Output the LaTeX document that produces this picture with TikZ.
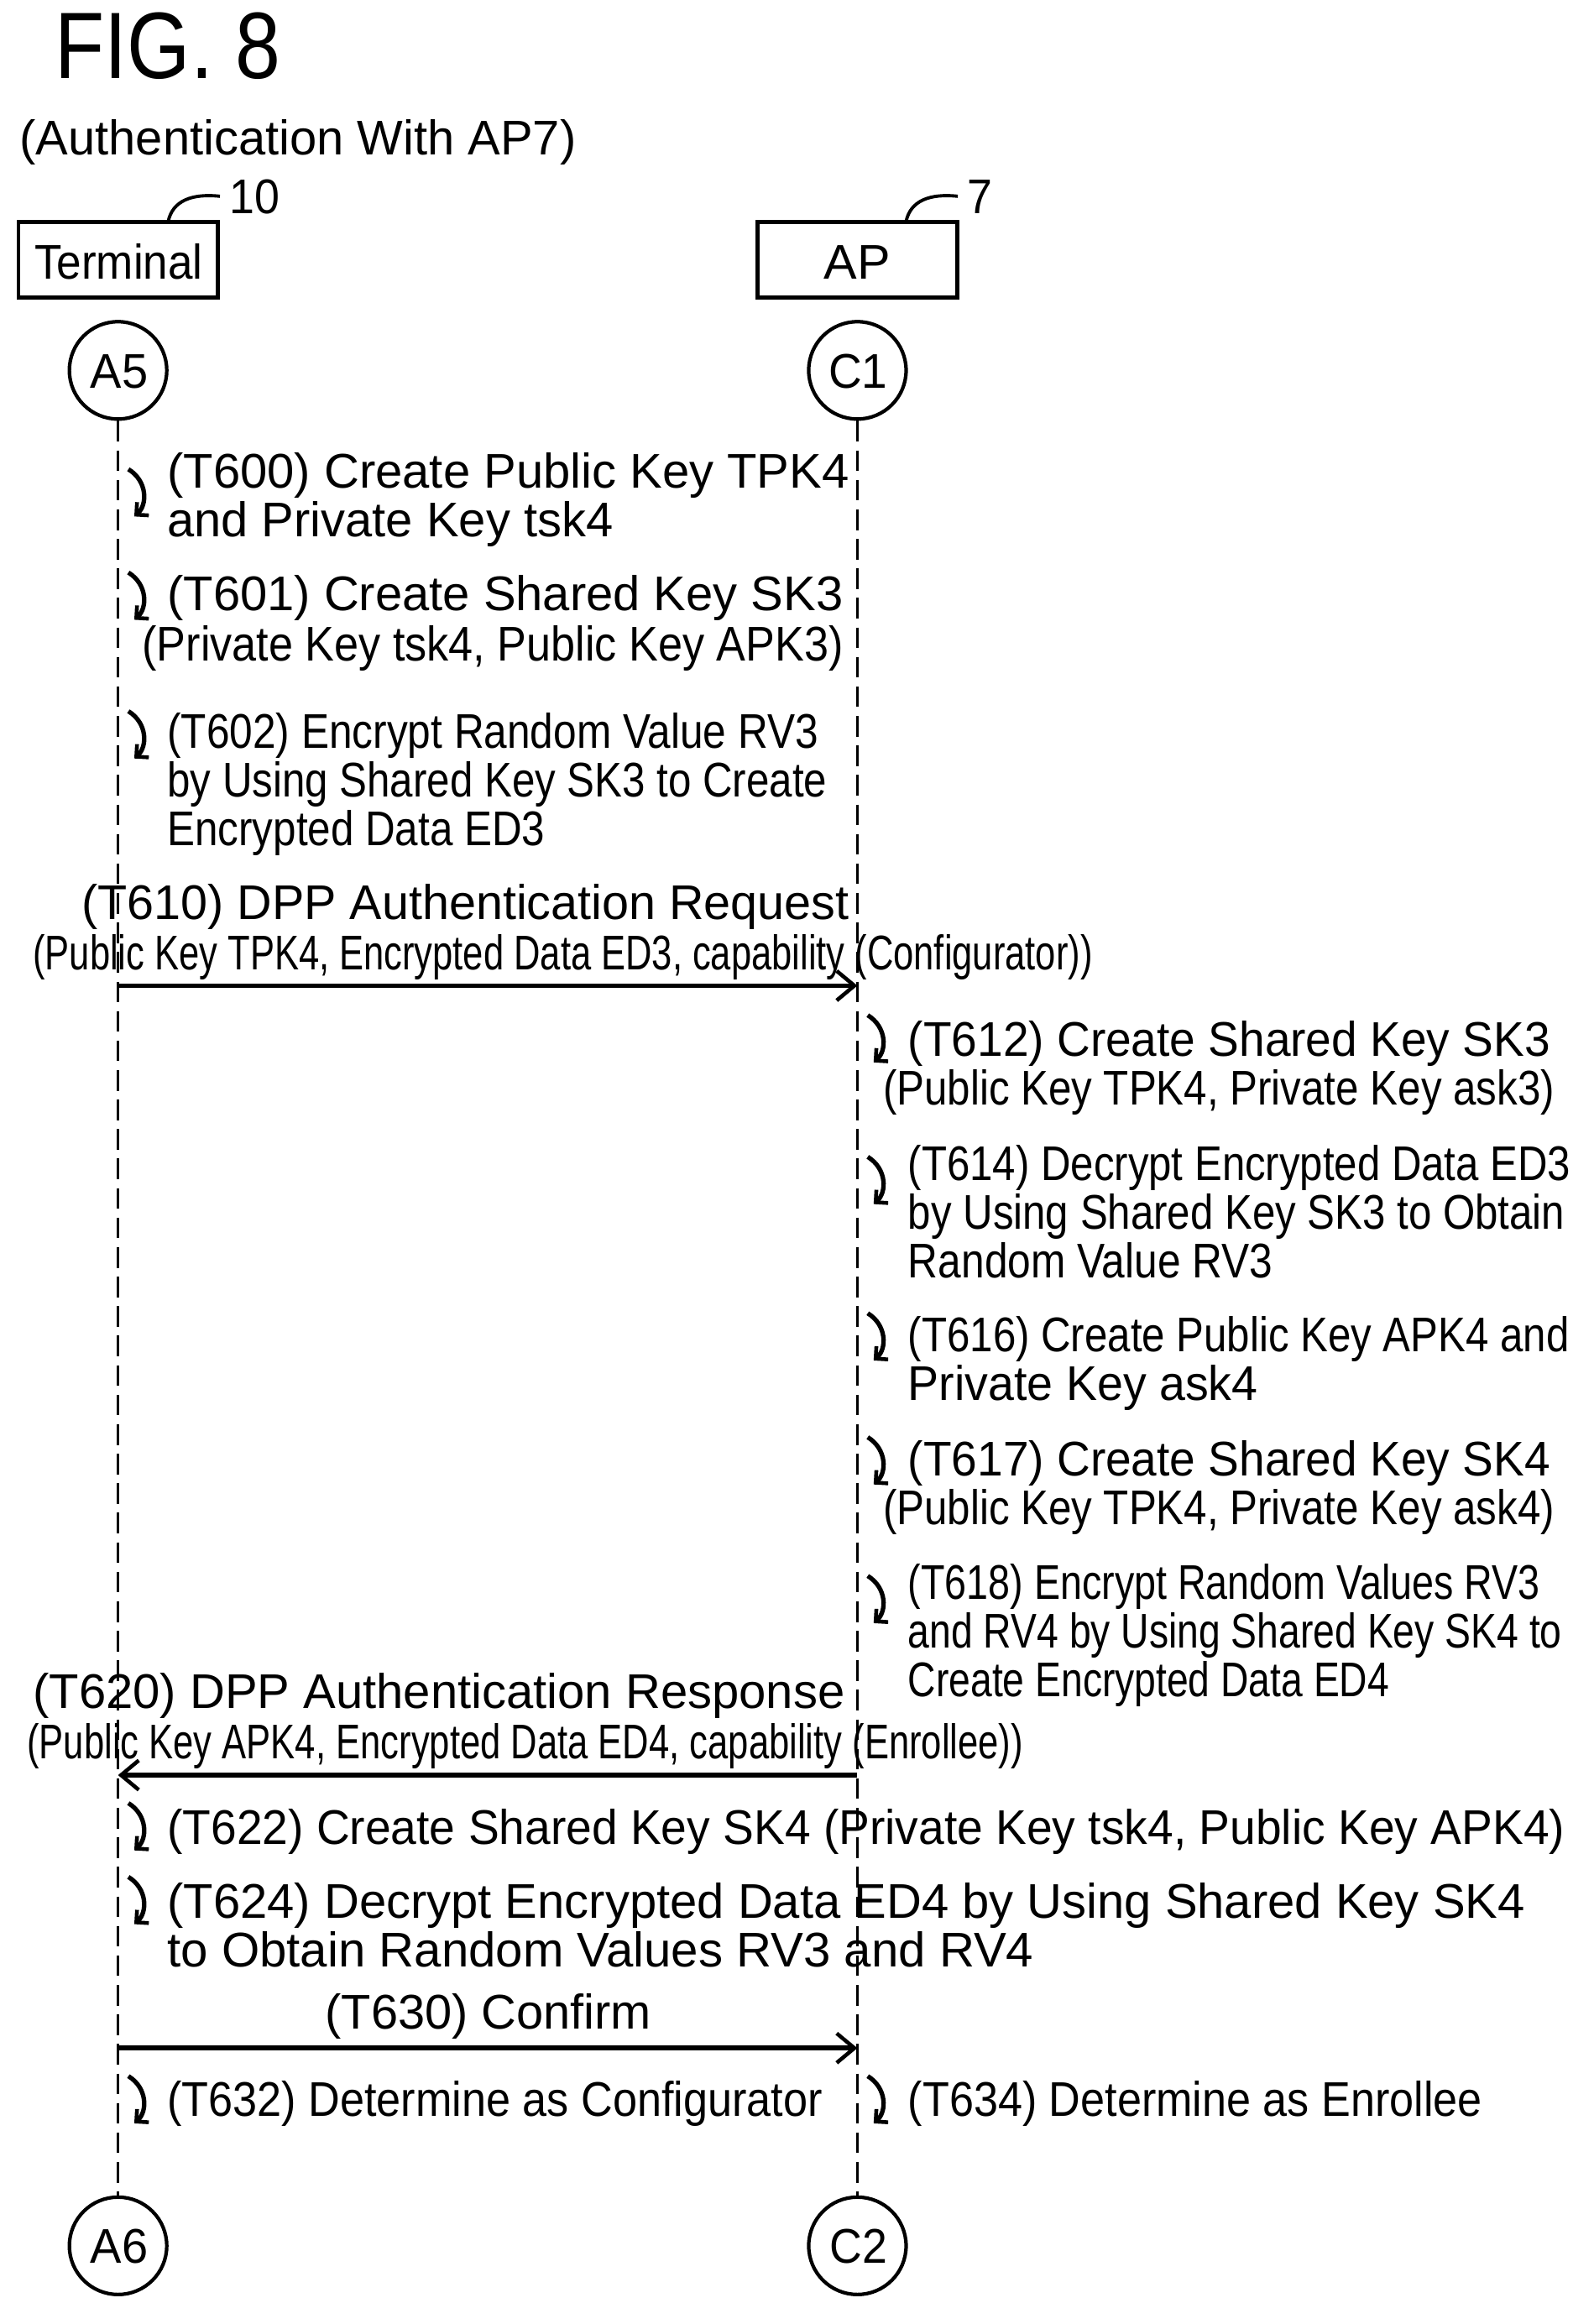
\documentclass[tikz,border=0pt]{standalone}
\usepackage{fontspec}
\setmainfont{Liberation Sans}
\usepackage{graphicx}
\usetikzlibrary{arrows.meta}
\newdimen\unitpx \unitpx=0.5pt
\newcommand\tl[5]{\node[anchor=base west,inner sep=0] (#1) at (#2,#3+12) {\resizebox{#4\unitpx}{\height}{#5}};}
\begin{document}
\begin{tikzpicture}[x=0.5pt,y=-0.5pt,font=\fontsize{16.5pt}{17pt}\selectfont,
  box/.style={draw,line width=1.4pt,minimum width=67.5pt,minimum height=25.5pt,inner sep=0},
  circ/.style={draw,circle,line width=1.2pt,minimum size=33pt,inner sep=0},
  life/.style={line width=1pt,dash pattern=on 7pt off 3pt},
  msg/.style={line width=1.6pt,-{Straight Barb[length=6pt,width=10pt,line width=1.3pt]}},
  curl/.pic={\draw[line width=1.5pt,-{Straight Barb[length=3pt,width=6pt,line width=1.3pt]}] (0,0) .. controls (13,8) and (13,24) .. (4,32);}]
\useasboundingbox (0,0) rectangle (1080,1575);
\node[anchor=base west,inner sep=0] (fig) at (37,53) {\resizebox{153\unitpx}{\height}{\fontsize{32pt}{32pt}\selectfont FIG. 8}};
\tl{sub}{13}{93}{377}{(Authentication With AP7)}
\node[box] (term) at (80,176) {};
\node[box] (ap) at (581,176) {};
\tl{termt}{23}{177}{114}{Terminal}
\tl{apt}{558}{177}{45}{AP}
\tl{r10}{155}{133}{34}{10}
\tl{r7}{655}{133}{17}{7}
\coordinate (c10) at (149,133);
\coordinate (c7) at (649,133);
\draw[line width=1.1pt] (114,150) .. controls (117,136) and (130,131) .. (c10);
\draw[line width=1.1pt] (614,150) .. controls (617,136) and (630,131) .. (c7);
\node[circ] (A5) at (80,251) {};
\node[circ] (C1) at (581,251) {};
\node[circ] (A6) at (80,1522) {};
\node[circ] (C2) at (581,1522) {};
\tl{a5t}{61}{251}{39}{A5}
\tl{c1t}{561}{251}{40}{C1}
\tl{a6t}{61}{1522}{39}{A6}
\tl{c2t}{562}{1522}{39}{C2}
\draw[life] (A5) -- (A6);
\draw[life] (C1) -- (C2);
% Terminal side
\pic at (87,318) {curl};
\tl{t600a}{113}{319}{462}{(T600) Create Public Key TPK4}
\tl{t600b}{113}{352}{302}{and Private Key tsk4}
\pic at (87,388) {curl};
\tl{t601a}{113}{402}{458}{(T601) Create Shared Key SK3}
\tl{t601b}{96}{436}{475}{(Private Key tsk4, Public Key APK3)}
\pic at (87,482) {curl};
\tl{t602a}{113}{495}{441}{(T602) Encrypt Random Value RV3}
\tl{t602b}{113}{528}{447}{by Using Shared Key SK3 to Create}
\tl{t602c}{113}{561}{256}{Encrypted Data ED3}
\tl{t610a}{55}{611}{520}{(T610) DPP Authentication Request}
\tl{t610b}{22}{645}{718}{(Public Key TPK4, Encrypted Data ED3, capability (Configurator))}
\coordinate (m1s) at (80,668); \coordinate (m1e) at (581,668);
\draw[msg] (m1s) -- (m1e);
% AP side
\pic at (588,688) {curl};
\tl{t612a}{615}{704}{435}{(T612) Create Shared Key SK3}
\tl{t612b}{598}{737}{455}{(Public Key TPK4, Private Key ask3)}
\pic at (588,784) {curl};
\tl{t614a}{615}{788}{449}{(T614) Decrypt Encrypted Data ED3}
\tl{t614b}{615}{821}{445}{by Using Shared Key SK3 to Obtain}
\tl{t614c}{615}{854}{247}{Random Value RV3}
\pic at (588,890) {curl};
\tl{t616a}{615}{904}{448}{(T616) Create Public Key APK4 and}
\tl{t616b}{615}{937}{237}{Private Key ask4}
\pic at (588,974) {curl};
\tl{t617a}{615}{988}{435}{(T617) Create Shared Key SK4}
\tl{t617b}{598}{1021}{455}{(Public Key TPK4, Private Key ask4)}
\pic at (588,1068) {curl};
\tl{t618a}{615}{1072}{428}{(T618) Encrypt Random Values RV3}
\tl{t618b}{615}{1105}{443}{and RV4 by Using Shared Key SK4 to}
\tl{t618c}{615}{1138}{326}{Create Encrypted Data ED4}
\tl{t620a}{22}{1146}{550}{(T620) DPP Authentication Response}
\tl{t620b}{18}{1180}{675}{(Public Key APK4, Encrypted Data ED4, capability (Enrollee))}
\coordinate (m2s) at (581,1203); \coordinate (m2e) at (80,1203);
\draw[msg] (m2s) -- (m2e);
\pic at (87,1222) {curl};
\tl{t622}{113}{1238}{947}{(T622) Create Shared Key SK4 (Private Key tsk4, Public Key APK4)}
\pic at (87,1272) {curl};
\tl{t624a}{113}{1288}{920}{(T624) Decrypt Encrypted Data ED4 by Using Shared Key SK4}
\tl{t624b}{113}{1321}{587}{to Obtain Random Values RV3 and RV4}
\tl{t630}{220}{1363}{221}{(T630) Confirm}
\coordinate (m3s) at (80,1388); \coordinate (m3e) at (581,1388);
\draw[msg] (m3s) -- (m3e);
\pic at (87,1407) {curl};
\tl{t632}{113}{1422}{444}{(T632) Determine as Configurator}
\pic at (588,1407) {curl};
\tl{t634}{615}{1422}{389}{(T634) Determine as Enrollee}
\end{tikzpicture}
\end{document}
